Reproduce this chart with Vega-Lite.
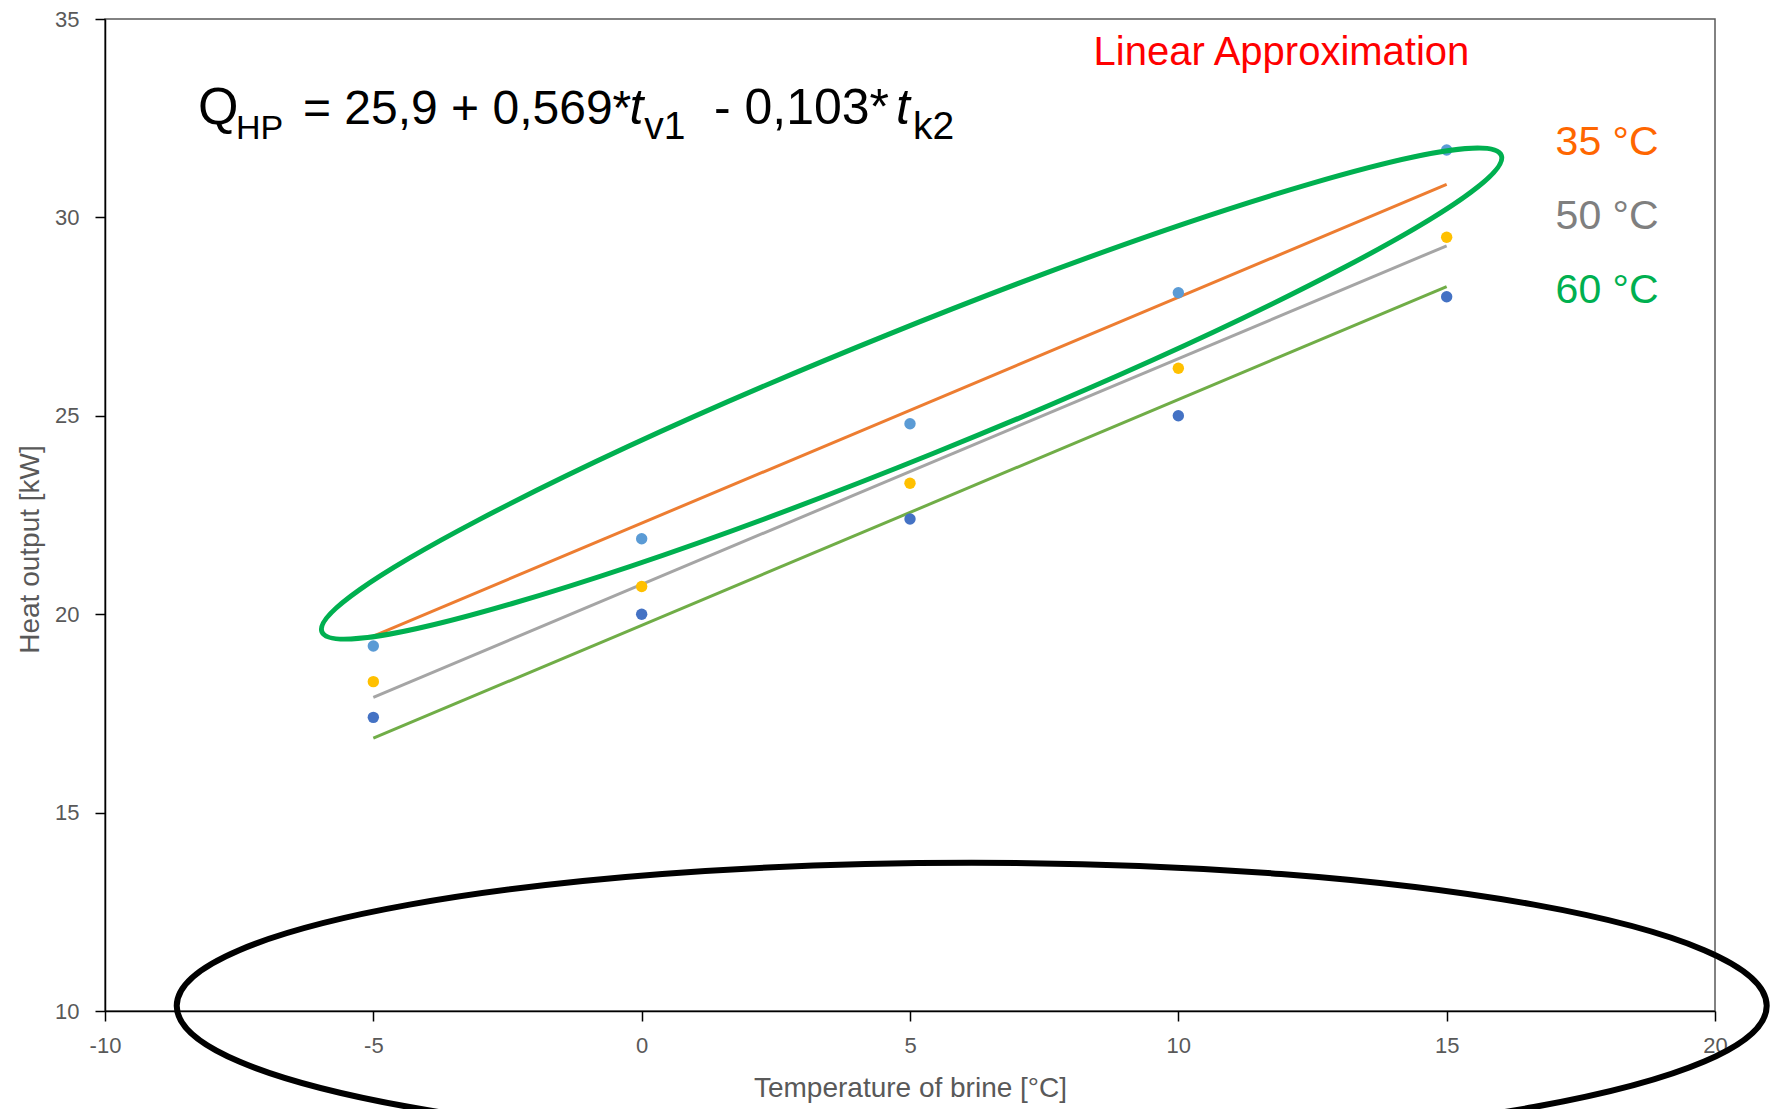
{
  "$schema": "https://vega.github.io/schema/vega-lite/v6.json",
  "width": 1610,
  "height": 992,
  "autosize": "none",
  "padding": {"left": 105, "top": 19, "right": 57, "bottom": 98},
  "background": "white",
  "config": {
    "view": {"stroke": "#595959", "strokeWidth": 1.5},
    "font": "Liberation Sans",
    "axis": {
      "grid": false,
      "domainColor": "#000000",
      "domainWidth": 1.5,
      "tickColor": "#000000",
      "tickWidth": 1.5,
      "tickSize": 10,
      "labelFont": "Liberation Sans",
      "labelFontSize": 22,
      "labelColor": "#595959",
      "labelFlush": false,
      "labelOverlap": false,
      "labelExpr": "toString(datum.value)",
      "titleFont": "Liberation Sans",
      "titleFontSize": 28,
      "titleFontWeight": "normal",
      "titleColor": "#595959"
    }
  },
  "datasets": {
    "measured": [
      {"t_brine": -5, "Q": 19.2, "t_out": "35 °C"},
      {"t_brine": 0, "Q": 21.9, "t_out": "35 °C"},
      {"t_brine": 5, "Q": 24.8, "t_out": "35 °C"},
      {"t_brine": 10, "Q": 28.1, "t_out": "35 °C"},
      {"t_brine": 15, "Q": 31.7, "t_out": "35 °C"},
      {"t_brine": -5, "Q": 18.3, "t_out": "50 °C"},
      {"t_brine": 0, "Q": 20.7, "t_out": "50 °C"},
      {"t_brine": 5, "Q": 23.3, "t_out": "50 °C"},
      {"t_brine": 10, "Q": 26.2, "t_out": "50 °C"},
      {"t_brine": 15, "Q": 29.5, "t_out": "50 °C"},
      {"t_brine": -5, "Q": 17.4, "t_out": "60 °C"},
      {"t_brine": 0, "Q": 20.0, "t_out": "60 °C"},
      {"t_brine": 5, "Q": 22.4, "t_out": "60 °C"},
      {"t_brine": 10, "Q": 25.0, "t_out": "60 °C"},
      {"t_brine": 15, "Q": 28.0, "t_out": "60 °C"}
    ],
    "fit": [
      {"t_brine": -5, "Q": 19.45, "t_out": "35 °C"},
      {"t_brine": 15, "Q": 30.83, "t_out": "35 °C"},
      {"t_brine": -5, "Q": 17.905, "t_out": "50 °C"},
      {"t_brine": 15, "Q": 29.285, "t_out": "50 °C"},
      {"t_brine": -5, "Q": 16.875, "t_out": "60 °C"},
      {"t_brine": 15, "Q": 28.255, "t_out": "60 °C"}
    ]
  },
  "layer": [
    {
      "data": {"name": "fit"},
      "mark": {"type": "line", "strokeWidth": 3},
      "encoding": {
        "x": {
          "field": "t_brine",
          "type": "quantitative",
          "scale": {"domain": [-10, 20], "nice": false, "zero": false},
          "axis": {
            "title": "Temperature of brine [°C]",
            "values": [-10, -5, 0, 5, 10, 15, 20],
            "labelPadding": 14,
            "titlePadding": 18
          }
        },
        "y": {
          "field": "Q",
          "type": "quantitative",
          "scale": {"domain": [10, 35], "nice": false, "zero": false},
          "axis": {
            "title": "Heat output [kW]",
            "values": [10, 15, 20, 25, 30, 35],
            "labelPadding": 16,
            "titlePadding": 10,
            "titleY": 530
          }
        },
        "color": {
          "field": "t_out",
          "type": "nominal",
          "scale": {"domain": ["35 °C", "50 °C", "60 °C"], "range": ["#ED7D31", "#A5A5A5", "#70AD47"]},
          "legend": null
        }
      }
    },
    {
      "data": {"name": "measured"},
      "mark": {"type": "point", "filled": true, "size": 130, "opacity": 1},
      "encoding": {
        "x": {"field": "t_brine", "type": "quantitative"},
        "y": {"field": "Q", "type": "quantitative"},
        "color": {
          "field": "t_out",
          "type": "nominal",
          "scale": {"domain": ["35 °C", "50 °C", "60 °C"], "range": ["#5B9BD5", "#FFC000", "#4472C4"]},
          "legend": null
        }
      }
    },
    {
      "data": {"values": [{"note": "35 °C curve"}]},
      "mark": {
        "type": "point",
        "shape": "M -1 0 C -1 -0.0552 -0.5523 -0.1 0 -0.1 C 0.5523 -0.1 1 -0.0552 1 0 C 1 0.0552 0.5523 0.1 0 0.1 C -0.5523 0.1 -1 0.0552 -1 0 Z",
        "size": 1617984,
        "angle": 338,
        "filled": false,
        "stroke": "#00B050",
        "strokeWidth": 5,
        "opacity": 1
      },
      "encoding": {"x": {"datum": 5.03}, "y": {"datum": 25.56}}
    },
    {
      "data": {"values": [{"note": "brine temperature axis"}]},
      "mark": {
        "type": "point",
        "shape": "M -1 0 C -1 -0.0994 -0.5523 -0.18 0 -0.18 C 0.5523 -0.18 1 -0.0994 1 0 C 1 0.0994 0.5523 0.18 0 0.18 C -0.5523 0.18 -1 0.0994 -1 0 Z",
        "size": 2528100,
        "filled": false,
        "stroke": "#000000",
        "strokeWidth": 6,
        "opacity": 1
      },
      "encoding": {"x": {"datum": 6.15}, "y": {"datum": 10.13}}
    },
    {
      "data": {"values": [{"label": "Linear Approximation"}]},
      "mark": {"type": "text", "align": "left", "baseline": "alphabetic", "font": "Liberation Sans", "fontSize": 40, "color": "#FF0000"},
      "encoding": {"x": {"datum": 8.42}, "y": {"datum": 33.83}, "text": {"field": "label"}}
    },
    {
      "data": {"values": [{"label": "35 °C"}]},
      "mark": {"type": "text", "align": "left", "baseline": "alphabetic", "font": "Liberation Sans", "fontSize": 41, "color": "#FF6600"},
      "encoding": {"x": {"datum": 17.03}, "y": {"datum": 31.57}, "text": {"field": "label"}}
    },
    {
      "data": {"values": [{"label": "50 °C"}]},
      "mark": {"type": "text", "align": "left", "baseline": "alphabetic", "font": "Liberation Sans", "fontSize": 41, "color": "#7F7F7F"},
      "encoding": {"x": {"datum": 17.03}, "y": {"datum": 29.71}, "text": {"field": "label"}}
    },
    {
      "data": {"values": [{"label": "60 °C"}]},
      "mark": {"type": "text", "align": "left", "baseline": "alphabetic", "font": "Liberation Sans", "fontSize": 41, "color": "#00B050"},
      "encoding": {"x": {"datum": 17.03}, "y": {"datum": 27.84}, "text": {"field": "label"}}
    },
    {
      "data": {"values": [{"part": "Q"}]},
      "mark": {"type": "text", "align": "left", "baseline": "alphabetic", "font": "Liberation Sans", "fontSize": 52, "color": "#000000"},
      "encoding": {"x": {"datum": -8.267}, "y": {"datum": 32.354}, "text": {"field": "part"}}
    },
    {
      "data": {"values": [{"part": "HP"}]},
      "mark": {"type": "text", "align": "left", "baseline": "alphabetic", "font": "Liberation Sans", "fontSize": 34, "color": "#000000"},
      "encoding": {"x": {"datum": -7.56}, "y": {"datum": 31.976}, "text": {"field": "part"}}
    },
    {
      "data": {"values": [{"part": "= 25,9 + 0,569*"}]},
      "mark": {"type": "text", "align": "left", "baseline": "alphabetic", "font": "Liberation Sans", "fontSize": 48, "color": "#000000"},
      "encoding": {"x": {"datum": -6.311}, "y": {"datum": 32.354}, "text": {"field": "part"}}
    },
    {
      "data": {"values": [{"part": "t"}]},
      "mark": {"type": "text", "align": "left", "baseline": "alphabetic", "font": "Liberation Sans", "fontStyle": "italic", "fontSize": 50, "color": "#000000"},
      "encoding": {"x": {"datum": -0.227}, "y": {"datum": 32.354}, "text": {"field": "part"}}
    },
    {
      "data": {"values": [{"part": "v1"}]},
      "mark": {"type": "text", "align": "left", "baseline": "alphabetic", "font": "Liberation Sans", "fontSize": 39, "color": "#000000"},
      "encoding": {"x": {"datum": 0.05}, "y": {"datum": 31.976}, "text": {"field": "part"}}
    },
    {
      "data": {"values": [{"part": "- 0,103*"}]},
      "mark": {"type": "text", "align": "left", "baseline": "alphabetic", "font": "Liberation Sans", "fontSize": 50, "color": "#000000"},
      "encoding": {"x": {"datum": 1.347}, "y": {"datum": 32.354}, "text": {"field": "part"}}
    },
    {
      "data": {"values": [{"part": "t"}]},
      "mark": {"type": "text", "align": "left", "baseline": "alphabetic", "font": "Liberation Sans", "fontStyle": "italic", "fontSize": 50, "color": "#000000"},
      "encoding": {"x": {"datum": 4.738}, "y": {"datum": 32.354}, "text": {"field": "part"}}
    },
    {
      "data": {"values": [{"part": "k2"}]},
      "mark": {"type": "text", "align": "left", "baseline": "alphabetic", "font": "Liberation Sans", "fontSize": 39, "color": "#000000"},
      "encoding": {"x": {"datum": 5.055}, "y": {"datum": 31.976}, "text": {"field": "part"}}
    }
  ],
  "resolve": {"scale": {"color": "independent"}}
}
